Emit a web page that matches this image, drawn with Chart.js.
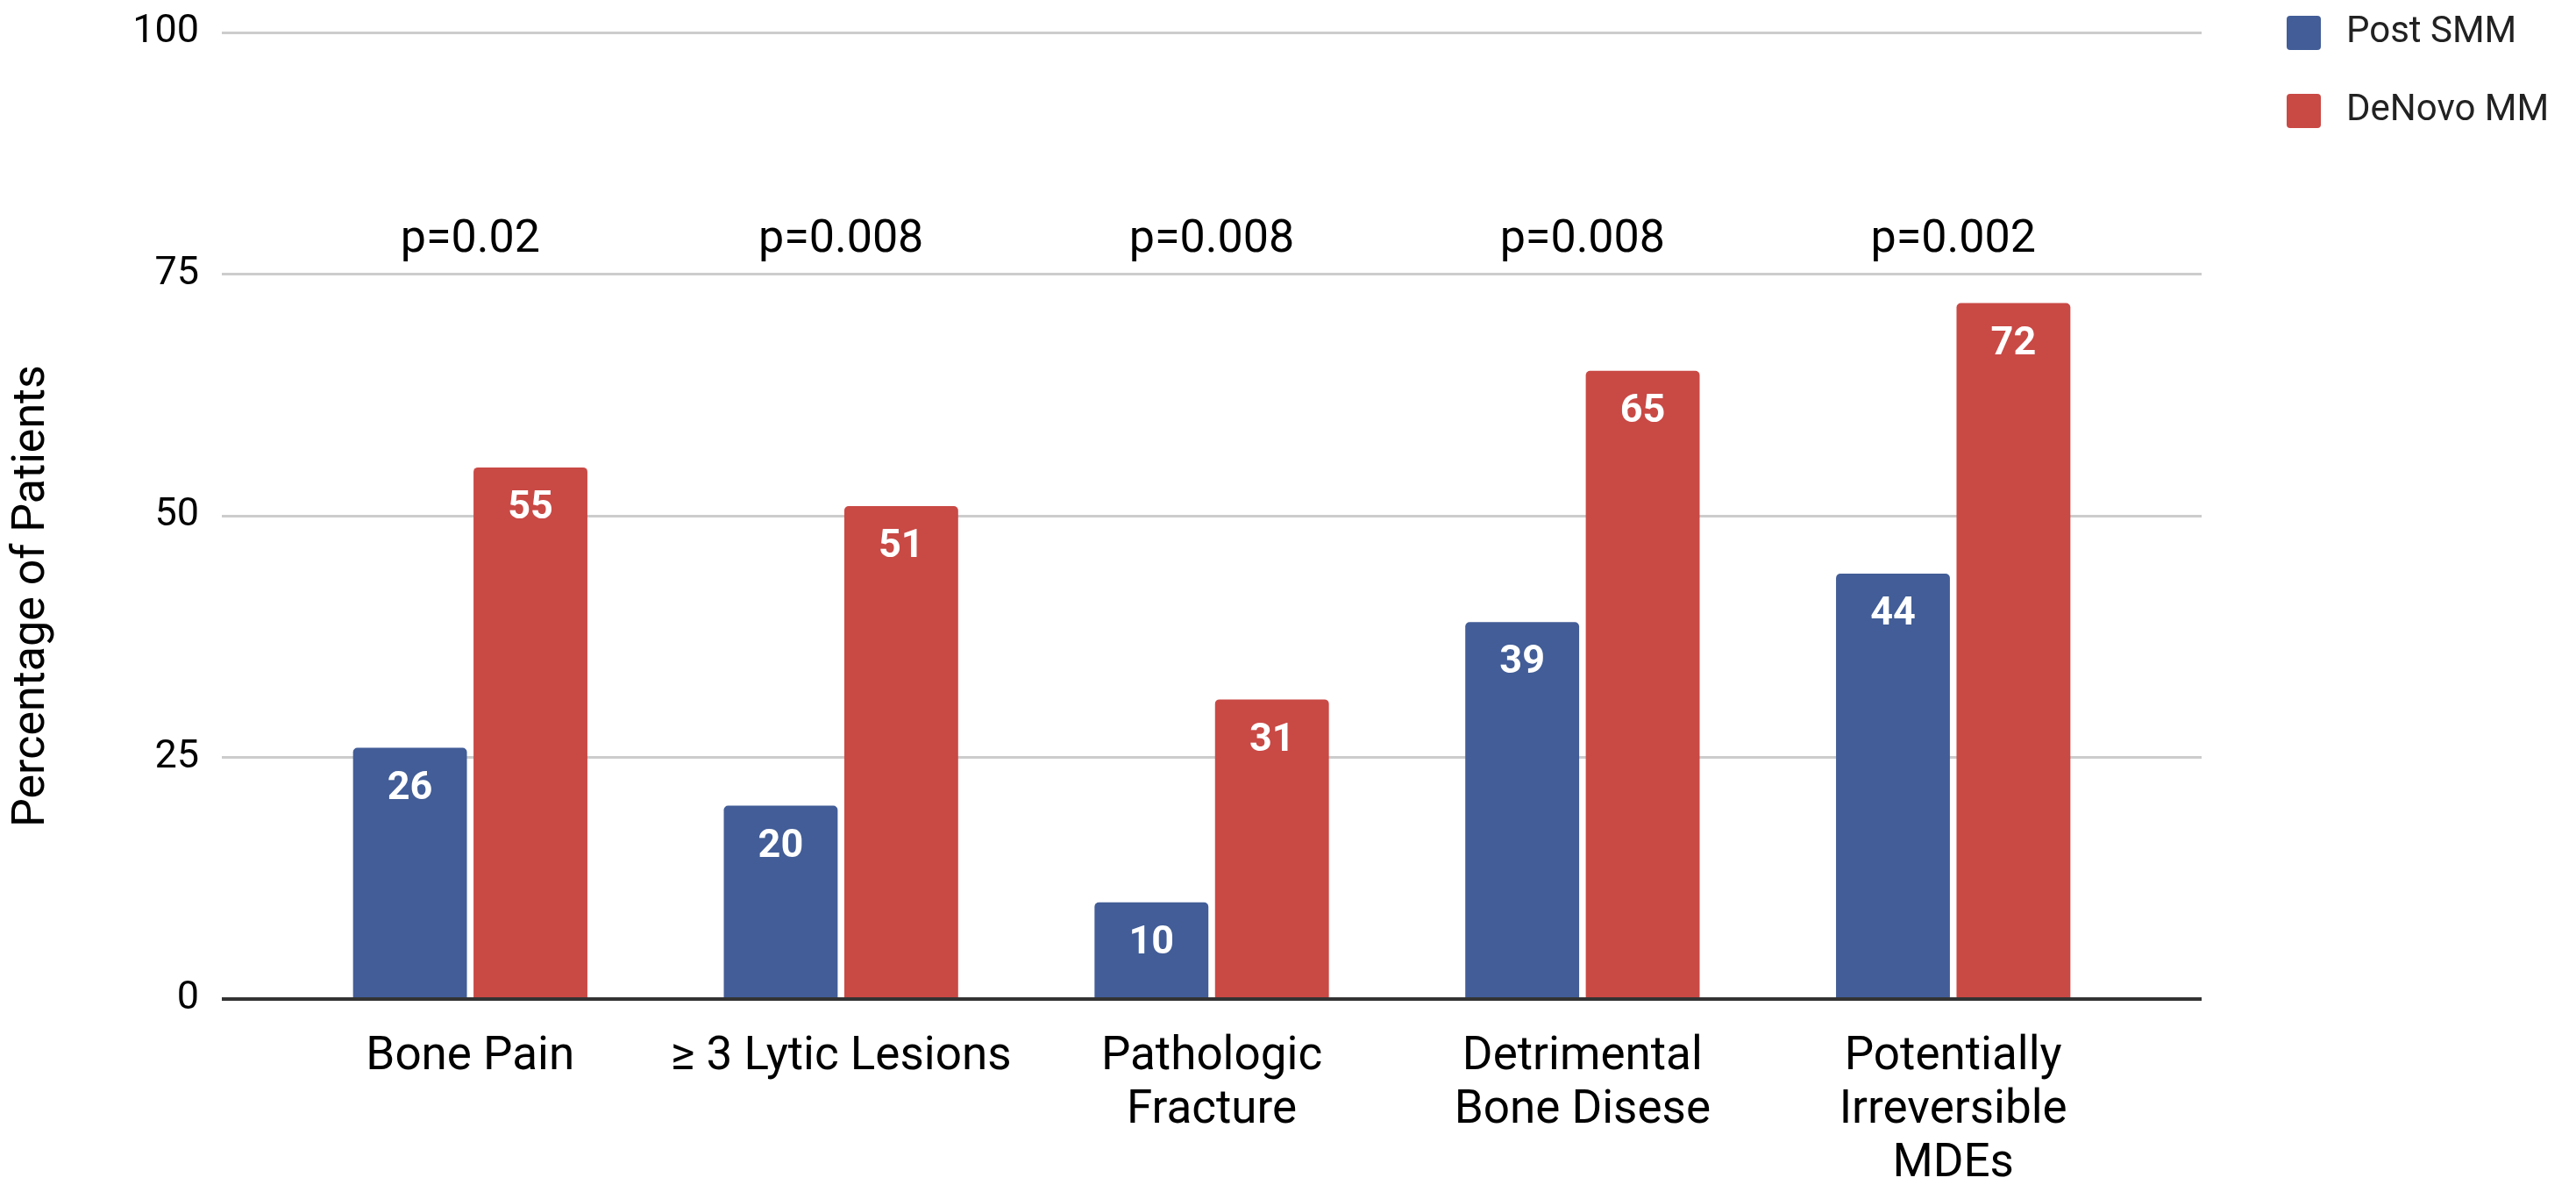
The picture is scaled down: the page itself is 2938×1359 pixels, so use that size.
<!DOCTYPE html>
<html>
<head>
<meta charset="utf-8">
<script src="https://cdn.jsdelivr.net/npm/chart.js@4.4.1/dist/chart.umd.min.js"></script>
<style>
  html, body { margin: 0; padding: 0; background: #fff; }
  #wrap { width: 2938px; height: 1359px; }
  canvas { display: block; }
</style>
</head>
<body>
<div id="wrap"><canvas id="myChart" width="2938" height="1359"></canvas></div>
<script>
/** data */
const categories = ["Bone Pain", "≥ 3 Lytic Lesions", ["Pathologic", "Fracture"], ["Detrimental", "Bone Disese"], ["Potentially", "Irreversible", "MDEs"]];
const postSMM = [26, 20, 10, 39, 44];
const deNovoMM = [55, 51, 31, 65, 72];
const pValues = ["p=0.02", "p=0.008", "p=0.008", "p=0.008", "p=0.002"];
const yTicks = [0, 25, 50, 75, 100];
const seriesNames = ["Post SMM", "DeNovo MM"];
const colors = ["#425d97", "#c94945"];

/** plugins */
const barLabels = {
  id: "barLabels",
  afterDatasetsDraw(chart) {
    const ctx = chart.ctx;
    ctx.save();
    ctx.fillStyle = "#fff";
    ctx.font = "bold 45px Roboto";
    ctx.textAlign = "center";
    ctx.textBaseline = "middle";
    chart.data.datasets.forEach((ds, d) => {
      chart.getDatasetMeta(d).data.forEach((bar, i) => {
        ctx.fillText(ds.data[i].y, bar.x, bar.y + 47);
      });
    });
    ctx.restore();
  },
};

const pLabels = {
  id: "pLabels",
  afterDraw(chart) {
    const ctx = chart.ctx;
    const x = chart.scales.x;
    const y = chart.scales.y;
    ctx.save();
    ctx.fillStyle = "#000";
    ctx.font = "52px Roboto";
    ctx.textAlign = "center";
    ctx.textBaseline = "alphabetic";
    pValues.forEach((p, i) => {
      ctx.fillText(p, x.getPixelForValue(i), y.getPixelForValue(77.3));
    });
    ctx.restore();
  },
};

const sideBits = {
  id: "sideBits",
  afterDraw(chart) {
    const ctx = chart.ctx;
    ctx.save();
    // y title, centred on the canvas
    ctx.translate(37, chart.height / 2);
    ctx.rotate(-Math.PI / 2);
    ctx.fillStyle = "#000";
    ctx.font = "52px Roboto";
    ctx.textAlign = "center";
    ctx.textBaseline = "middle";
    ctx.fillText("Percentage of Patients", 0, 0);
    ctx.restore();

    // legend
    ctx.save();
    ctx.font = "42px Roboto";
    ctx.textBaseline = "middle";
    ctx.textAlign = "left";
    chart.data.datasets.forEach((ds, i) => {
      const cy = 37 + i * 89;
      ctx.fillStyle = ds.backgroundColor;
      ctx.beginPath();
      ctx.roundRect(2608, cy - 19, 39, 39, 4);
      ctx.fill();
      ctx.fillStyle = "#222";
      ctx.fillText(ds.label, 2676, cy);
    });
    ctx.restore();
  },
};

/** chart */
const myChart = new Chart(document.getElementById("myChart"), {
  type: "bar",
  data: {
    datasets: [
      {
        label: seriesNames[0],
        data: postSMM.map((v, i) => ({ x: i, y: v })),
        backgroundColor: colors[0],
      },
      {
        label: seriesNames[1],
        data: deNovoMM.map((v, i) => ({ x: i, y: v })),
        backgroundColor: colors[1],
      },
    ],
  },
  options: {
    responsive: false,
    animation: false,
    devicePixelRatio: 1,
    categoryPercentage: 0.65,
    barPercentage: 0.945,
    borderRadius: { topLeft: 5, topRight: 5 },
    borderSkipped: "start",
    layout: { autoPadding: false, padding: { top: 37, left: 151, right: 427, bottom: 10 } },
    plugins: {
      legend: { display: false },
      tooltip: { enabled: false },
    },
    scales: {
      x: {
        type: "linear",
        offset: false,
        min: -0.67,
        max: 4.67,
        afterBuildTicks: (axis) => {
          axis.ticks = categories.map((c, i) => ({ value: i }));
        },
        afterFit: (axis) => {
          axis.height = 210;
        },
        grid: { display: false, drawTicks: false },
        border: { display: false },
        ticks: {
          callback: (v) => categories[v],
          autoSkip: false,
          maxRotation: 0,
          padding: 36,
          color: "#000",
          font: { family: "Roboto", size: 53, lineHeight: 1.15 },
        },
      },
      y: {
        min: 0,
        max: 100,
        afterBuildTicks: (axis) => {
          axis.ticks = yTicks.map((v) => ({ value: v }));
        },
        afterFit: (axis) => {
          axis.width = 102;
          axis.paddingTop = 0;
          axis.paddingBottom = 0;
        },
        border: { display: false },
        grid: {
          drawTicks: false,
          color: (c) => (c.tick.value === 0 ? "#333" : "#cccccc"),
          lineWidth: (c) => (c.tick.value === 0 ? 4 : 3),
        },
        ticks: {
          padding: 26,
          color: "#000",
          font: { family: "Roboto", size: 45 },
        },
      },
    },
  },
  plugins: [barLabels, pLabels, sideBits],
});
</script>
</body>
</html>
